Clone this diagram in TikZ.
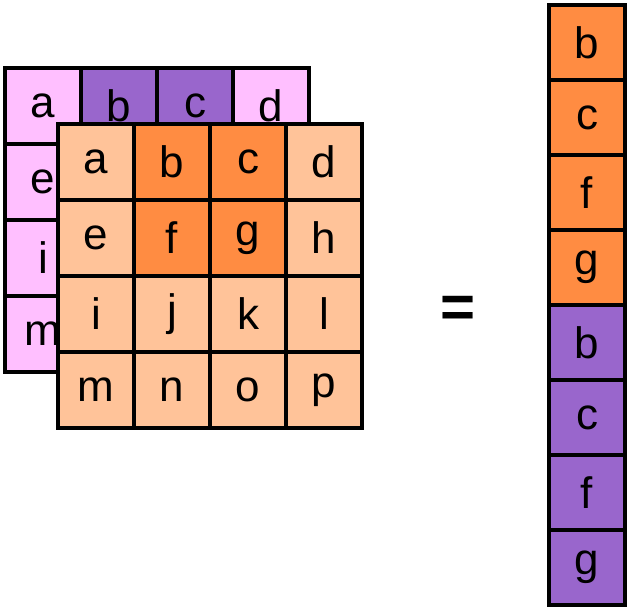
\documentclass[tikz,border=0pt]{standalone}
\usepackage{fontspec}
\setmainfont{Liberation Sans}
\usetikzlibrary{positioning}
\definecolor{backpink}{HTML}{FFBFFF}
\definecolor{backpurple}{HTML}{9966CC}
\definecolor{frontpeach}{HTML}{FFC399}
\definecolor{frontorange}{HTML}{FF8C42}
\tikzset{
  cell/.style={draw=black, line width=4pt, minimum size=76pt, inner sep=0pt,
    font=\fontsize{44}{44}\selectfont, anchor=north west},
}
\begin{document}
\begin{tikzpicture}[x=1pt,y=-1pt]
    \useasboundingbox (0,0) rectangle (627,608);
    % back grid
    \foreach \t [count=\i from 0] in {a,b,c,d,e,f,g,h,i,j,k,l,m,n,o,p} {
        \pgfmathtruncatemacro{\col}{mod(\i,4)}
        \pgfmathtruncatemacro{\row}{div(\i,4)}
        \ifnum\i=1 \def\fc{backpurple}\else\ifnum\i=2 \def\fc{backpurple}\else\def\fc{backpink}\fi\fi
        \node[cell, fill=\fc] (back\t) at (3+76*\col, 66+76*\row) {\t};
    }
    % front grid
    \foreach \t [count=\i from 0] in {a,b,c,d,e,f,g,h,i,j,k,l,m,n,o,p} {
        \pgfmathtruncatemacro{\col}{mod(\i,4)}
        \pgfmathtruncatemacro{\row}{div(\i,4)}
        \def\fc{frontpeach}
        \ifnum\i=1 \def\fc{frontorange}\fi
        \ifnum\i=2 \def\fc{frontorange}\fi
        \ifnum\i=5 \def\fc{frontorange}\fi
        \ifnum\i=6 \def\fc{frontorange}\fi
        \node[cell, fill=\fc] (front\t) at (56+76*\col, 122+76*\row) {\t};
    }
    % equals sign
    \node[font=\fontsize{60}{60}\selectfont\bfseries] (eq) at (458,312) {=};
    % output column
    \foreach \t [count=\i from 0] in {b,c,f,g} {
        \node[cell, fill=frontorange, minimum height=75pt] (outA\t) at (547, 3+75*\i) {\t};
        \node[cell, fill=backpurple, minimum height=75pt] (outB\t) at (547, 303+75*\i) {\t};
    }
\end{tikzpicture}
\end{document}
